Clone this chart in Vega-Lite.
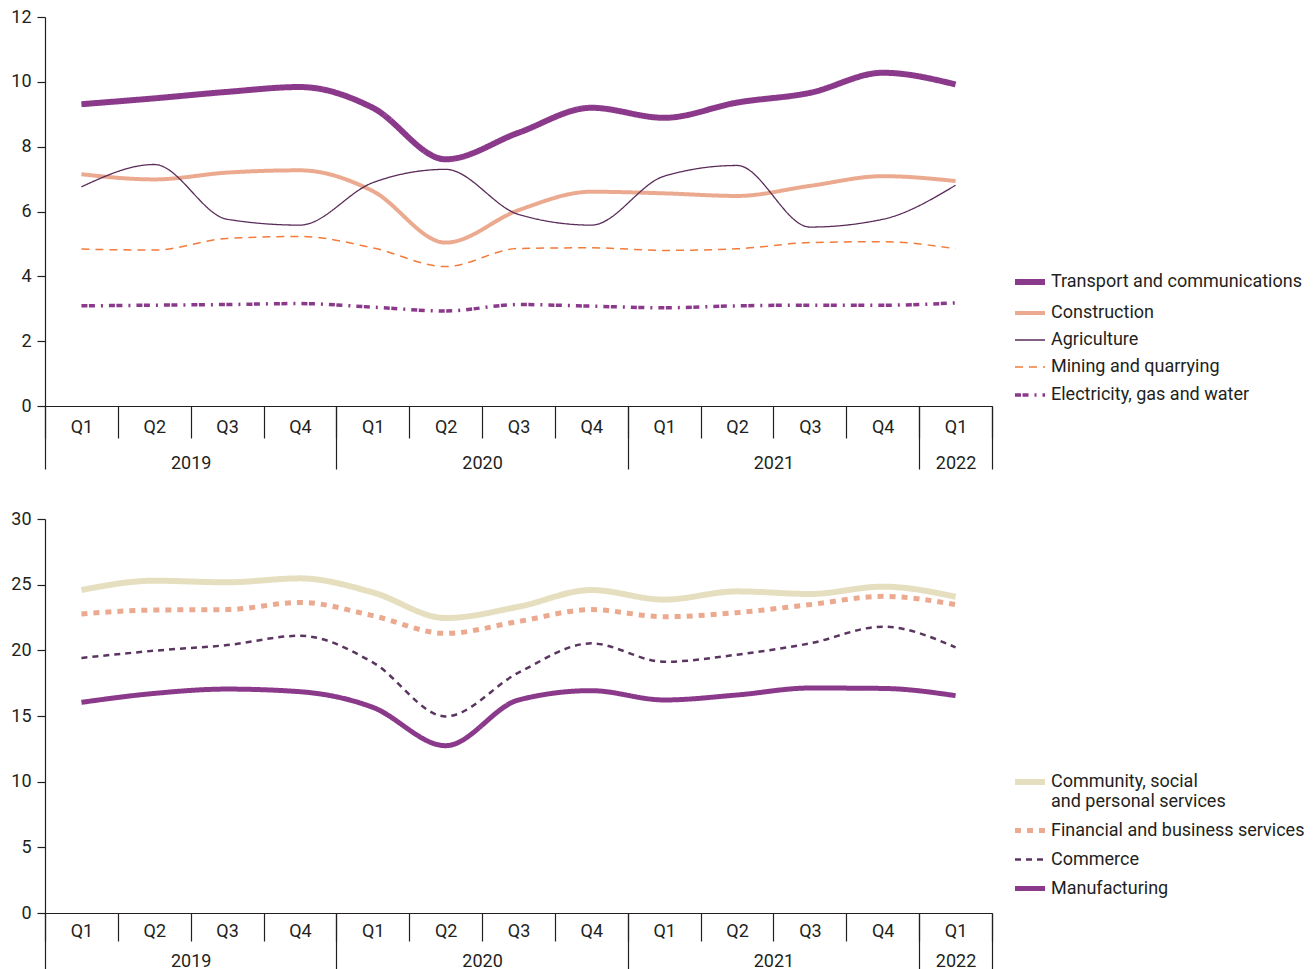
{
  "$schema": "https://vega.github.io/schema/vega-lite/v6.json",
  "padding": {"left": 10, "top": 8, "right": 5, "bottom": 0},
  "spacing": 38,
  "datasets": {
    "top": [
      {"period": "2019 Q1", "sector": "Transport and communications", "share": 9.31},
      {"period": "2019 Q2", "sector": "Transport and communications", "share": 9.49},
      {"period": "2019 Q3", "sector": "Transport and communications", "share": 9.69},
      {"period": "2019 Q4", "sector": "Transport and communications", "share": 9.84},
      {"period": "2020 Q1", "sector": "Transport and communications", "share": 9.2},
      {"period": "2020 Q2", "sector": "Transport and communications", "share": 7.61},
      {"period": "2020 Q3", "sector": "Transport and communications", "share": 8.43},
      {"period": "2020 Q4", "sector": "Transport and communications", "share": 9.2},
      {"period": "2021 Q1", "sector": "Transport and communications", "share": 8.89},
      {"period": "2021 Q2", "sector": "Transport and communications", "share": 9.36},
      {"period": "2021 Q3", "sector": "Transport and communications", "share": 9.66},
      {"period": "2021 Q4", "sector": "Transport and communications", "share": 10.28},
      {"period": "2022 Q1", "sector": "Transport and communications", "share": 9.92},
      {"period": "2019 Q1", "sector": "Construction", "share": 7.15},
      {"period": "2019 Q2", "sector": "Construction", "share": 6.99},
      {"period": "2019 Q3", "sector": "Construction", "share": 7.2},
      {"period": "2019 Q4", "sector": "Construction", "share": 7.27},
      {"period": "2020 Q1", "sector": "Construction", "share": 6.63},
      {"period": "2020 Q2", "sector": "Construction", "share": 5.04},
      {"period": "2020 Q3", "sector": "Construction", "share": 6.04},
      {"period": "2020 Q4", "sector": "Construction", "share": 6.61},
      {"period": "2021 Q1", "sector": "Construction", "share": 6.56},
      {"period": "2021 Q2", "sector": "Construction", "share": 6.48},
      {"period": "2021 Q3", "sector": "Construction", "share": 6.79},
      {"period": "2021 Q4", "sector": "Construction", "share": 7.09},
      {"period": "2022 Q1", "sector": "Construction", "share": 6.94},
      {"period": "2019 Q1", "sector": "Agriculture", "share": 6.76},
      {"period": "2019 Q2", "sector": "Agriculture", "share": 7.45},
      {"period": "2019 Q3", "sector": "Agriculture", "share": 5.76},
      {"period": "2019 Q4", "sector": "Agriculture", "share": 5.58},
      {"period": "2020 Q1", "sector": "Agriculture", "share": 6.89},
      {"period": "2020 Q2", "sector": "Agriculture", "share": 7.3},
      {"period": "2020 Q3", "sector": "Agriculture", "share": 5.91},
      {"period": "2020 Q4", "sector": "Agriculture", "share": 5.58},
      {"period": "2021 Q1", "sector": "Agriculture", "share": 7.09},
      {"period": "2021 Q2", "sector": "Agriculture", "share": 7.42},
      {"period": "2021 Q3", "sector": "Agriculture", "share": 5.52},
      {"period": "2021 Q4", "sector": "Agriculture", "share": 5.76},
      {"period": "2022 Q1", "sector": "Agriculture", "share": 6.81},
      {"period": "2019 Q1", "sector": "Mining and quarrying", "share": 4.84},
      {"period": "2019 Q2", "sector": "Mining and quarrying", "share": 4.81},
      {"period": "2019 Q3", "sector": "Mining and quarrying", "share": 5.17},
      {"period": "2019 Q4", "sector": "Mining and quarrying", "share": 5.23},
      {"period": "2020 Q1", "sector": "Mining and quarrying", "share": 4.88},
      {"period": "2020 Q2", "sector": "Mining and quarrying", "share": 4.3},
      {"period": "2020 Q3", "sector": "Mining and quarrying", "share": 4.86},
      {"period": "2020 Q4", "sector": "Mining and quarrying", "share": 4.88},
      {"period": "2021 Q1", "sector": "Mining and quarrying", "share": 4.8},
      {"period": "2021 Q2", "sector": "Mining and quarrying", "share": 4.85},
      {"period": "2021 Q3", "sector": "Mining and quarrying", "share": 5.04},
      {"period": "2021 Q4", "sector": "Mining and quarrying", "share": 5.07},
      {"period": "2022 Q1", "sector": "Mining and quarrying", "share": 4.85},
      {"period": "2019 Q1", "sector": "Electricity, gas and water", "share": 3.09},
      {"period": "2019 Q2", "sector": "Electricity, gas and water", "share": 3.11},
      {"period": "2019 Q3", "sector": "Electricity, gas and water", "share": 3.13},
      {"period": "2019 Q4", "sector": "Electricity, gas and water", "share": 3.16},
      {"period": "2020 Q1", "sector": "Electricity, gas and water", "share": 3.05},
      {"period": "2020 Q2", "sector": "Electricity, gas and water", "share": 2.93},
      {"period": "2020 Q3", "sector": "Electricity, gas and water", "share": 3.13},
      {"period": "2020 Q4", "sector": "Electricity, gas and water", "share": 3.08},
      {"period": "2021 Q1", "sector": "Electricity, gas and water", "share": 3.03},
      {"period": "2021 Q2", "sector": "Electricity, gas and water", "share": 3.09},
      {"period": "2021 Q3", "sector": "Electricity, gas and water", "share": 3.11},
      {"period": "2021 Q4", "sector": "Electricity, gas and water", "share": 3.11},
      {"period": "2022 Q1", "sector": "Electricity, gas and water", "share": 3.18}
    ],
    "bottom": [
      {"period": "2019 Q1", "sector": "Community, social and personal services", "share": 24.59},
      {"period": "2019 Q2", "sector": "Community, social and personal services", "share": 25.3},
      {"period": "2019 Q3", "sector": "Community, social and personal services", "share": 25.18},
      {"period": "2019 Q4", "sector": "Community, social and personal services", "share": 25.48},
      {"period": "2020 Q1", "sector": "Community, social and personal services", "share": 24.41},
      {"period": "2020 Q2", "sector": "Community, social and personal services", "share": 22.46},
      {"period": "2020 Q3", "sector": "Community, social and personal services", "share": 23.32},
      {"period": "2020 Q4", "sector": "Community, social and personal services", "share": 24.59},
      {"period": "2021 Q1", "sector": "Community, social and personal services", "share": 23.86},
      {"period": "2021 Q2", "sector": "Community, social and personal services", "share": 24.49},
      {"period": "2021 Q3", "sector": "Community, social and personal services", "share": 24.29},
      {"period": "2021 Q4", "sector": "Community, social and personal services", "share": 24.85},
      {"period": "2022 Q1", "sector": "Community, social and personal services", "share": 24.08},
      {"period": "2019 Q1", "sector": "Financial and business services", "share": 22.77},
      {"period": "2019 Q2", "sector": "Financial and business services", "share": 23.07},
      {"period": "2019 Q3", "sector": "Financial and business services", "share": 23.1},
      {"period": "2019 Q4", "sector": "Financial and business services", "share": 23.65},
      {"period": "2020 Q1", "sector": "Financial and business services", "share": 22.64},
      {"period": "2020 Q2", "sector": "Financial and business services", "share": 21.29},
      {"period": "2020 Q3", "sector": "Financial and business services", "share": 22.2},
      {"period": "2020 Q4", "sector": "Financial and business services", "share": 23.1},
      {"period": "2021 Q1", "sector": "Financial and business services", "share": 22.56},
      {"period": "2021 Q2", "sector": "Financial and business services", "share": 22.87},
      {"period": "2021 Q3", "sector": "Financial and business services", "share": 23.48},
      {"period": "2021 Q4", "sector": "Financial and business services", "share": 24.11},
      {"period": "2022 Q1", "sector": "Financial and business services", "share": 23.48},
      {"period": "2019 Q1", "sector": "Commerce", "share": 19.42},
      {"period": "2019 Q2", "sector": "Commerce", "share": 19.97},
      {"period": "2019 Q3", "sector": "Commerce", "share": 20.4},
      {"period": "2019 Q4", "sector": "Commerce", "share": 21.11},
      {"period": "2020 Q1", "sector": "Commerce", "share": 19.08},
      {"period": "2020 Q2", "sector": "Commerce", "share": 14.97},
      {"period": "2020 Q3", "sector": "Commerce", "share": 18.3},
      {"period": "2020 Q4", "sector": "Commerce", "share": 20.53},
      {"period": "2021 Q1", "sector": "Commerce", "share": 19.13},
      {"period": "2021 Q2", "sector": "Commerce", "share": 19.67},
      {"period": "2021 Q3", "sector": "Commerce", "share": 20.53},
      {"period": "2021 Q4", "sector": "Commerce", "share": 21.8},
      {"period": "2022 Q1", "sector": "Commerce", "share": 20.23},
      {"period": "2019 Q1", "sector": "Manufacturing", "share": 16.04},
      {"period": "2019 Q2", "sector": "Manufacturing", "share": 16.72},
      {"period": "2019 Q3", "sector": "Manufacturing", "share": 17.05},
      {"period": "2019 Q4", "sector": "Manufacturing", "share": 16.85},
      {"period": "2020 Q1", "sector": "Manufacturing", "share": 15.66},
      {"period": "2020 Q2", "sector": "Manufacturing", "share": 12.74},
      {"period": "2020 Q3", "sector": "Manufacturing", "share": 16.22},
      {"period": "2020 Q4", "sector": "Manufacturing", "share": 16.93},
      {"period": "2021 Q1", "sector": "Manufacturing", "share": 16.22},
      {"period": "2021 Q2", "sector": "Manufacturing", "share": 16.6},
      {"period": "2021 Q3", "sector": "Manufacturing", "share": 17.13},
      {"period": "2021 Q4", "sector": "Manufacturing", "share": 17.1},
      {"period": "2022 Q1", "sector": "Manufacturing", "share": 16.55}
    ]
  },
  "vconcat": [
    {
      "width": 947,
      "height": 389,
      "data": {"name": "top"},
      "layer": [
        {
          "mark": {"type": "line", "interpolate": "monotone", "strokeCap": "butt"},
          "encoding": {
            "x": {
              "field": "period", "type": "ordinal",
              "scale": {"type": "band", "paddingInner": 0, "paddingOuter": 0},
              "axis": {
                "orient": "bottom",
                "tickBand": "extent", "labelAngle": 0, "labelOverlap": false,
                "labelExpr": "slice(datum.label, 5)",
                "tickSize": 32, "labelPadding": -11, "labelBaseline": "middle",
                "domain": true
              }
            },
            "y": {
              "field": "share", "type": "quantitative",
              "scale": {"domain": [0, 12], "nice": false},
              "axis": {"values": [0, 2, 4, 6, 8, 10, 12], "tickSize": 8, "labelPadding": 6, "labelBaseline": "middle"}
            },
            "color": {
              "field": "sector", "type": "nominal",
              "scale": {
                "domain": ["Transport and communications", "Construction", "Agriculture", "Mining and quarrying", "Electricity, gas and water"],
                "range": ["#8B3A8B", "#EBAA8F", "#5A2C59", "#F37B3B", "#8B3A8B"]
              },
              "legend": {"orient": "none", "legendX": 967, "legendY": 247}
            },
            "strokeDash": {
              "field": "sector", "type": "nominal",
              "scale": {
                "domain": ["Transport and communications", "Construction", "Agriculture", "Mining and quarrying", "Electricity, gas and water"],
                "range": [[1, 0], [1, 0], [1, 0], [8, 6], [6, 1.5, 6, 6, 2, 6]]
              }
            },
            "strokeWidth": {
              "field": "sector", "type": "nominal",
              "scale": {
                "type": "ordinal",
                "domain": ["Transport and communications", "Construction", "Agriculture", "Mining and quarrying", "Electricity, gas and water"],
                "range": [6, 4, 1.3, 1.5, 3.5]
              }
            }
          }
        },
        {
          "mark": {"type": "point", "opacity": 0},
          "encoding": {
            "x": {
              "field": "period", "type": "ordinal",
              "axis": {
                "orient": "bottom",
                "tickBand": "extent", "labelAngle": 0, "labelOverlap": false, "domain": false,
                "tickSize": 63,
                "tickOpacity": {"condition": {"test": "!datum.value || indexof(datum.value, 'Q4') >= 0 || datum.value == '2022 Q1'", "value": 1}, "value": 0},
                "labelExpr": "!datum.value ? '' : (datum.value == '2022 Q1' ? '2022' : (indexof(datum.value, 'Q2') >= 0 ? slice(datum.value, 0, 4) : ''))",
                "labelOffset": {"condition": {"test": "datum.value == '2022 Q1'", "value": 0}, "value": 36.4},
                "labelPadding": -6, "labelBaseline": "middle"
              }
            }
          }
        }
      ],
      "resolve": {"axis": {"x": "independent"}}
    },
    {
      "width": 947,
      "height": 394,
      "data": {"name": "bottom"},
      "layer": [
        {
          "mark": {"type": "line", "interpolate": "monotone", "strokeCap": "butt"},
          "encoding": {
            "x": {
              "field": "period", "type": "ordinal",
              "scale": {"type": "band", "paddingInner": 0, "paddingOuter": 0},
              "axis": {
                "orient": "bottom",
                "tickBand": "extent", "labelAngle": 0, "labelOverlap": false,
                "labelExpr": "slice(datum.label, 5)",
                "tickSize": 28, "labelPadding": -10, "labelBaseline": "middle",
                "domain": true
              }
            },
            "y": {
              "field": "share", "type": "quantitative",
              "scale": {"domain": [0, 30], "nice": false},
              "axis": {"values": [0, 5, 10, 15, 20, 25, 30], "tickSize": 8, "labelPadding": 6, "labelBaseline": "middle"}
            },
            "color": {
              "field": "sector", "type": "nominal",
              "scale": {
                "domain": ["Community, social and personal services", "Financial and business services", "Commerce", "Manufacturing"],
                "range": ["#E5DFC0", "#EBAA8F", "#5A3560", "#8B3A8B"]
              },
              "legend": {
                "orient": "none", "legendX": 967, "legendY": 245,
                "labelExpr": "datum.label == 'Community, social and personal services' ? ['Community, social', 'and personal services'] : datum.label"
              }
            },
            "strokeDash": {
              "field": "sector", "type": "nominal",
              "scale": {
                "domain": ["Community, social and personal services", "Financial and business services", "Commerce", "Manufacturing"],
                "range": [[1, 0], [6, 6], [6, 5], [1, 0]]
              }
            },
            "strokeWidth": {
              "field": "sector", "type": "nominal",
              "scale": {
                "type": "ordinal",
                "domain": ["Community, social and personal services", "Financial and business services", "Commerce", "Manufacturing"],
                "range": [6, 5, 2.5, 5]
              }
            }
          }
        },
        {
          "mark": {"type": "point", "opacity": 0},
          "encoding": {
            "x": {
              "field": "period", "type": "ordinal",
              "axis": {
                "orient": "bottom",
                "tickBand": "extent", "labelAngle": 0, "labelOverlap": false, "domain": false,
                "tickSize": 57,
                "tickOpacity": {"condition": {"test": "!datum.value || indexof(datum.value, 'Q4') >= 0 || datum.value == '2022 Q1'", "value": 1}, "value": 0},
                "labelExpr": "!datum.value ? '' : (datum.value == '2022 Q1' ? '2022' : (indexof(datum.value, 'Q2') >= 0 ? slice(datum.value, 0, 4) : ''))",
                "labelOffset": {"condition": {"test": "datum.value == '2022 Q1'", "value": 0}, "value": 36.4},
                "labelPadding": -9, "labelBaseline": "middle"
              }
            }
          }
        }
      ],
      "resolve": {"axis": {"x": "independent"}}
    }
  ],
  "resolve": {"scale": {"color": "independent", "strokeDash": "independent", "strokeWidth": "independent"}},
  "config": {
    "font": "Roboto",
    "view": {"stroke": null},
    "axis": {
      "title": null, "grid": false,
      "labelFont": "Roboto", "labelFontSize": 18, "labelColor": "#231f20",
      "domainColor": "#231f20", "tickColor": "#231f20", "domainWidth": 1.2, "tickWidth": 1.2
    },
    "legend": {
      "title": null, "symbolType": "stroke", "symbolSize": 900, "symbolOpacity": 1,
      "labelFont": "Roboto", "labelFontSize": 18, "labelColor": "#231f20",
      "labelOffset": 3, "labelLimit": 400, "rowPadding": 2, "padding": 0
    }
  }
}
